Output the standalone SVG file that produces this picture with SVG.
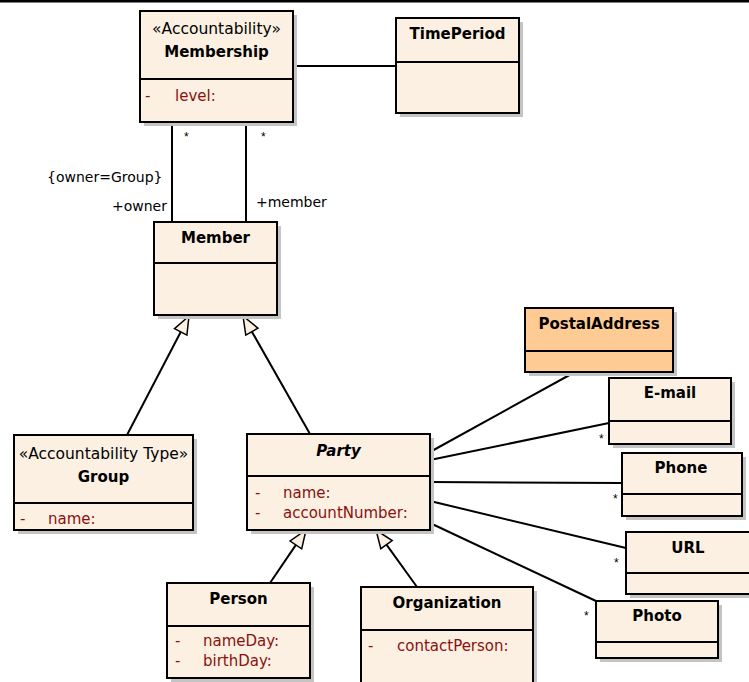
<svg xmlns="http://www.w3.org/2000/svg" width="749" height="682" viewBox="0 0 749 682">
<style>
text{font-family:"DejaVu Sans","Liberation Sans",sans-serif;font-size:14px;fill:#000}
.t{font-weight:bold;text-anchor:middle;font-size:15px}
.st{text-anchor:middle;font-size:15.5px}
.a{fill:#8B1010;font-size:15px}
.box{fill:#FBF0E2;stroke:#000;stroke-width:2}
.org{fill:#FFCB94;stroke:#000;stroke-width:2}
.sh{fill:#C4C4C4}
.dv{stroke:#000;stroke-width:2}
.ln{stroke:#000;stroke-width:2;fill:none}
.hd{fill:#FBF0E2;stroke:#000;stroke-width:1.5}
.m{font-size:12px;font-family:"Liberation Sans",sans-serif}
</style>
<rect x="0" y="0" width="749" height="2.5" fill="#000"/>
<g id="connectors">
<line class="ln" x1="293" y1="66" x2="396" y2="66"/>
<line class="ln" x1="172" y1="122" x2="172" y2="222"/>
<line class="ln" x1="246" y1="122" x2="246" y2="222"/>
<text class="m" x="184" y="141">*</text>
<text class="m" x="261" y="141">*</text>
<text x="47" y="182">{owner=Group}</text>
<text x="112" y="211">+owner</text>
<text x="256" y="207">+member</text>
<line class="ln" x1="127" y1="435" x2="180.7" y2="332"/>
<polygon class="hd" points="189,316 186.9,335.2 174.5,328.7"/>
<line class="ln" x1="310" y1="434" x2="251.9" y2="331.7"/>
<polygon class="hd" points="243,316 258,328.2 245.8,335.1"/>
<line class="ln" x1="270" y1="583" x2="295.9" y2="544.9"/>
<polygon class="hd" points="306,530 301.7,548.8 290.1,541"/>
<line class="ln" x1="417" y1="587" x2="386.5" y2="544.6"/>
<polygon class="hd" points="376,530 392.2,540.5 380.8,548.7"/>
<line class="ln" x1="430" y1="452" x2="575" y2="372"/>
<line class="ln" x1="430" y1="460" x2="609" y2="423"/>
<line class="ln" x1="430" y1="482" x2="622" y2="483"/>
<line class="ln" x1="430" y1="501" x2="626" y2="548"/>
<line class="ln" x1="430" y1="523" x2="596" y2="601"/>
<text class="m" x="599" y="443">*</text>
<text class="m" x="613" y="503">*</text>
<text class="m" x="614" y="567">*</text>
<text class="m" x="584" y="620">*</text>
</g>
<g id="Membership">
<rect class="sh" x="144" y="15" width="153" height="111"/>
<rect class="box" x="140" y="11" width="153" height="111"/>
<line class="dv" x1="140" y1="79" x2="293" y2="79"/>
<text class="st" x="216.5" y="34">«Accountability»</text>
<text class="t" x="216.5" y="57">Membership</text>
<text class="a" x="145" y="101">-</text>
<text class="a" x="175" y="101">level:</text>
</g>
<g id="TimePeriod">
<rect class="sh" x="400" y="22" width="123" height="95"/>
<rect class="box" x="396" y="18" width="123" height="95"/>
<line class="dv" x1="396" y1="62" x2="519" y2="62"/>
<text class="t" x="457.5" y="39">TimePeriod</text>
</g>
<g id="Member">
<rect class="sh" x="158" y="226" width="123" height="93"/>
<rect class="box" x="154" y="222" width="123" height="93"/>
<line class="dv" x1="154" y1="263" x2="277" y2="263"/>
<text class="t" x="215.5" y="243">Member</text>
</g>
<g id="Group">
<rect class="sh" x="18" y="439" width="179" height="95"/>
<rect class="box" x="14" y="435" width="179" height="95"/>
<line class="dv" x1="14" y1="503" x2="193" y2="503"/>
<text class="st" x="103.5" y="459">«Accountability Type»</text>
<text class="t" x="103.5" y="482">Group</text>
<text class="a" x="20" y="524">-</text>
<text class="a" x="48" y="524">name:</text>
</g>
<g id="Party">
<rect class="sh" x="251" y="438" width="183" height="96"/>
<rect class="box" x="247" y="434" width="183" height="96"/>
<line class="dv" x1="247" y1="476" x2="430" y2="476"/>
<text class="t" x="338.5" y="456" font-style="italic">Party</text>
<text class="a" x="255" y="498">-</text>
<text class="a" x="283" y="498">name:</text>
<text class="a" x="255" y="518">-</text>
<text class="a" x="283" y="518">accountNumber:</text>
</g>
<g id="Person">
<rect class="sh" x="171" y="587" width="143" height="95"/>
<rect class="box" x="167" y="583" width="143" height="95"/>
<line class="dv" x1="167" y1="626" x2="310" y2="626"/>
<text class="t" x="238.5" y="604">Person</text>
<text class="a" x="175" y="646">-</text>
<text class="a" x="203" y="646">nameDay:</text>
<text class="a" x="175" y="666">-</text>
<text class="a" x="203" y="666">birthDay:</text>
</g>
<g id="Organization">
<rect class="sh" x="365" y="591" width="172" height="100"/>
<rect class="box" x="361" y="587" width="172" height="100"/>
<line class="dv" x1="361" y1="630" x2="533" y2="630"/>
<text class="t" x="447" y="608">Organization</text>
<text class="a" x="368" y="651">-</text>
<text class="a" x="397" y="651">contactPerson:</text>
</g>
<g id="PostalAddress">
<rect class="sh" x="529" y="312" width="148" height="64"/>
<rect class="org" x="525" y="308" width="148" height="64"/>
<line class="dv" x1="525" y1="351" x2="673" y2="351"/>
<text class="t" x="599" y="329">PostalAddress</text>
</g>
<g id="E-mail">
<rect class="sh" x="613" y="382" width="122" height="66"/>
<rect class="box" x="609" y="378" width="122" height="66"/>
<line class="dv" x1="609" y1="421" x2="731" y2="421"/>
<text class="t" x="670" y="398">E-mail</text>
</g>
<g id="Phone">
<rect class="sh" x="626" y="457" width="120" height="63"/>
<rect class="box" x="622" y="453" width="120" height="63"/>
<line class="dv" x1="622" y1="494" x2="742" y2="494"/>
<text class="t" x="681" y="473">Phone</text>
</g>
<g id="URL">
<rect class="sh" x="630" y="536" width="124" height="62"/>
<rect class="box" x="626" y="532" width="124" height="62"/>
<line class="dv" x1="626" y1="573" x2="750" y2="573"/>
<text class="t" x="688" y="553">URL</text>
</g>
<g id="Photo">
<rect class="sh" x="600" y="605" width="122" height="57"/>
<rect class="box" x="596" y="601" width="122" height="57"/>
<line class="dv" x1="596" y1="642" x2="718" y2="642"/>
<text class="t" x="657" y="621">Photo</text>
</g>
</svg>
